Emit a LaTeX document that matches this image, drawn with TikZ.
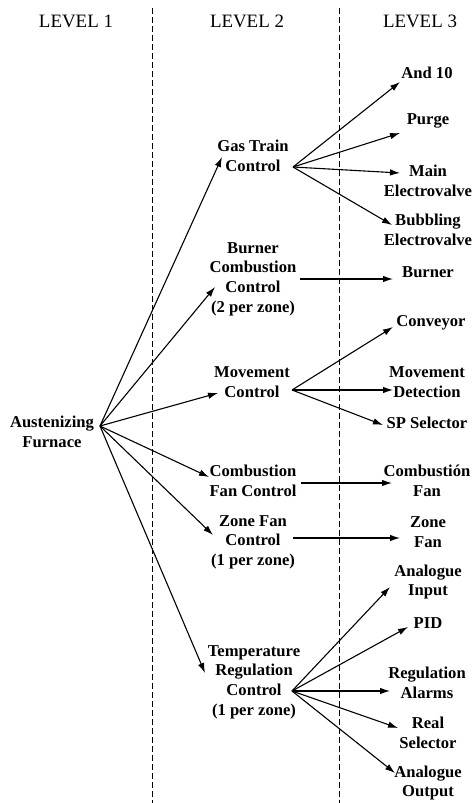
\documentclass[tikz,border=0pt]{standalone}
\usepackage{fontspec}
\setmainfont{Liberation Serif}
\usetikzlibrary{arrows.meta}
\tikzset{
  lvl/.style={font=\fontsize{18.9}{22}\selectfont, inner sep=0pt},
  blk/.style={font=\fontsize{16.6}{19.6}\selectfont\bfseries, align=center, inner sep=0pt},
  arr/.style={line width=1.1pt, -{Latex[length=10pt,width=6.5pt]}},
  sep/.style={line width=0.8pt, dash pattern=on 6pt off 3pt}
}
\begin{document}
\begin{tikzpicture}[x=1pt,y=-1pt]
\useasboundingbox (0,0) rectangle (473,803);

% column separators
\coordinate (s1t) at (152.5,8);  \coordinate (s1b) at (152.5,803);
\coordinate (s2t) at (339,8);    \coordinate (s2b) at (339,803);
\draw[sep] (s1t) -- (s1b);
\draw[sep] (s2t) -- (s2b);

% column headings
\node[lvl] (h1) at (76,21)  {LEVEL 1};
\node[lvl] (h2) at (247,21) {LEVEL 2};
\node[lvl] (h3) at (420,21) {LEVEL 3};

% level 1
\node[blk] (af) at (52,432) {Austenizing\\Furnace};

% level 2
\node[blk] (gtc) at (253,156) {Gas Train\\Control};
\node[blk] (bcc) at (253,279) {Burner\\Combustion\\Control\\(2 per zone)};
\node[blk] (mc)  at (252,382) {Movement\\Control};
\node[blk] (cfc) at (253,481) {Combustion\\Fan Control};
\node[blk] (zfc) at (253,542) {Zone Fan\\Control\\(1 per zone)};
\node[blk] (trc) at (254,682) {Temperature\\Regulation\\Control\\(1 per zone)};

% level 3
\node[blk] (and10) at (427,73)  {And 10};
\node[blk] (purge) at (428,121) {Purge};
\node[blk] (mev)   at (428,181) {Main\\Electrovalve};
\node[blk] (bev)   at (428,230) {Bubbling\\Electrovalve};
\node[blk] (burn)  at (428,272) {Burner};
\node[blk] (conv)  at (431,323) {Conveyor};
\node[blk] (md)    at (427,382) {Movement\\Detection};
\node[blk] (sps)   at (427,423) {SP Selector};
\node[blk] (cf)    at (427,481) {Combusti\'on\\Fan};
\node[blk] (zf)    at (428,532) {Zone\\Fan};
\node[blk] (ai)    at (428,582) {Analogue\\Input};
\node[blk] (pid)   at (428,623) {PID};
\node[blk] (ra)    at (427,683) {Regulation\\Alarms};
\node[blk] (rs)    at (428,733) {Real\\Selector};
\node[blk] (ao)    at (428,783) {Analogue\\Output};

% connector end points
\coordinate (af-o)   at (100,426);
\coordinate (gtc-i)  at (222,157);
\coordinate (bcc-i)  at (215,287);
\coordinate (mc-i)   at (218,393);
\coordinate (cfc-i)  at (209,477);
\coordinate (zfc-i)  at (213,535);
\coordinate (trc-i)  at (205,673);

\coordinate (gtc-o)  at (293,167);
\coordinate (and10-i) at (400,82);
\coordinate (purge-i) at (400,133);
\coordinate (mev-i)  at (400,173);
\coordinate (bev-i)  at (392,225);

\coordinate (bcc-o)  at (300,279);
\coordinate (burn-i) at (393,279);

\coordinate (mc-o)   at (292,390);
\coordinate (conv-i) at (393,327);
\coordinate (md-i)   at (393,390);
\coordinate (sps-i)  at (383,425);

\coordinate (cfc-o)  at (301,483);
\coordinate (cf-i)   at (392,483);

\coordinate (zfc-o)  at (293,538);
\coordinate (zf-i)   at (400,538);

\coordinate (trc-o)  at (292,691);
\coordinate (ai-i)   at (390,587);
\coordinate (pid-i)  at (408,627);
\coordinate (ra-i)   at (390,691);
\coordinate (rs-i)   at (398,728);
\coordinate (ao-i)   at (395,773);

% level 1 -> level 2
\foreach \t in {gtc,bcc,mc,cfc,zfc,trc}
  \draw[arr] (af-o) -- (\t-i);

% level 2 -> level 3
\foreach \t in {and10,purge,mev,bev}
  \draw[arr] (gtc-o) -- (\t-i);
\draw[arr] (bcc-o) -- (burn-i);
\foreach \t in {conv,md,sps}
  \draw[arr] (mc-o) -- (\t-i);
\draw[arr] (cfc-o) -- (cf-i);
\draw[arr] (zfc-o) -- (zf-i);
\foreach \t in {ai,pid,ra,rs,ao}
  \draw[arr] (trc-o) -- (\t-i);
\end{tikzpicture}
\end{document}
